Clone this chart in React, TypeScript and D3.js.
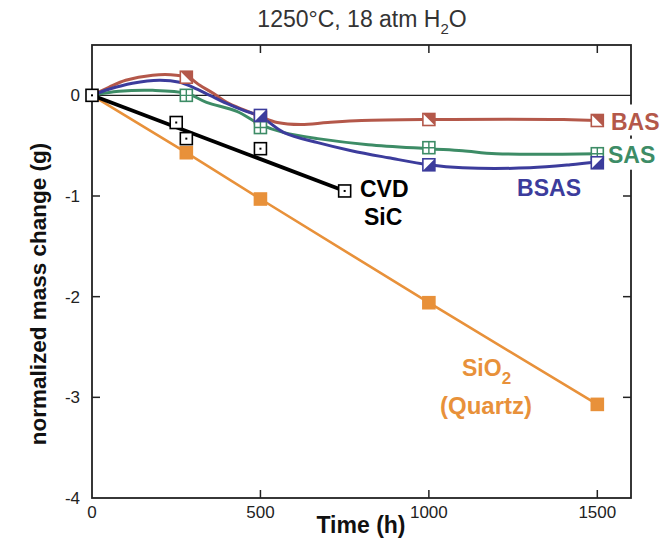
import * as d3 from 'd3';

// time (h) / normalized mass change (g)
const sicTime = [0, 250, 280, 500, 750];
const sicMass = [0, -0.27, -0.43, -0.53, -0.95];
const sicFitTime = [0, 750];
const sicFitMass = [0, -0.95];

const quartzTime = [0, 280, 500, 1000, 1500];
const quartzMass = [0, -0.57, -1.03, -2.06, -3.07];

const basTime = [280, 500, 1000, 1500];
const basMass = [0.18, -0.22, -0.24, -0.25];
const basFitTime = [0, 50, 100, 180, 250, 290, 320, 360, 400, 455, 500, 550, 620, 700, 800, 1000, 1400, 1500];
const basFitMass = [0, 0.08, 0.15, 0.2, 0.2, 0.17, 0.1, 0.02, -0.07, -0.15, -0.21, -0.27, -0.29, -0.27, -0.25, -0.24, -0.24, -0.25];

const sasTime = [280, 500, 1000, 1500];
const sasMass = [0.0, -0.32, -0.52, -0.58];
const sasFitTime = [0, 80, 180, 280, 340, 430, 500, 570, 670, 820, 1000, 1100, 1200, 1500];
const sasFitMass = [0, 0.04, 0.05, 0.02, -0.07, -0.16, -0.29, -0.37, -0.43, -0.49, -0.53, -0.55, -0.58, -0.58];

const bsasTime = [500, 1000, 1500];
const bsasMass = [-0.2, -0.69, -0.67];
const bsasFitTime = [0, 50, 120, 200, 260, 300, 350, 400, 450, 500, 570, 670, 770, 880, 1000, 1100, 1300, 1420, 1500];
const bsasFitMass = [0, 0.06, 0.12, 0.15, 0.13, 0.08, 0.0, -0.08, -0.15, -0.21, -0.37, -0.47, -0.55, -0.62, -0.69, -0.72, -0.72, -0.69, -0.66];

const xTicks = [0, 500, 1000, 1500];
const yTicks = [0, -1, -2, -3, -4];

const RED = '#b4584a';
const GREEN = '#3d8c66';
const BLUE = '#3c3c9c';
const ORANGE = '#e8913a';

const width = 662;
const height = 547;
const left = 92;
const right = 631;
const top = 45;
const bottom = 498;
const font = "'Liberation Sans', Arial, Helvetica, sans-serif";

const x = d3.scaleLinear([0, 1600], [left, right]);
const y = d3.scaleLinear([-4, 0.5], [bottom, top]);

const zip = (xs: number[], ys: number[]) => xs.map((t, i) => [t, ys[i]] as [number, number]);

const smooth = d3
  .line<[number, number]>()
  .x((d) => x(d[0]))
  .y((d) => y(d[1]))
  .curve(d3.curveCatmullRom.alpha(0.5));
const straight = d3
  .line<[number, number]>()
  .x((d) => x(d[0]))
  .y((d) => y(d[1]));

const S = 6;

function Marker({ cx, cy, kind, color }: { cx: number; cy: number; kind: string; color: string }) {
  const box = (
    <rect x={cx - S} y={cy - S} width={2 * S} height={2 * S} fill={kind === 'filled' ? color : 'white'} stroke={color} strokeWidth={1.6} />
  );
  if (kind === 'filled') return box;
  return (
    <g>
      {box}
      {kind === 'dot' && <rect x={cx - 1} y={cy - 1} width={2} height={2} fill={color} />}
      {kind === 'grid' && (
        <path d={`M${cx - S},${cy}H${cx + S}M${cx},${cy - S}V${cy + S}`} stroke={color} strokeWidth={1.4} />
      )}
      {kind === 'ur' && <path d={`M${cx - S},${cy - S}L${cx + S},${cy - S}L${cx + S},${cy + S}Z`} fill={color} />}
      {kind === 'lr' && <path d={`M${cx - S},${cy + S}L${cx + S},${cy - S}L${cx + S},${cy + S}Z`} fill={color} />}
    </g>
  );
}

export default function App() {
  const inner = [-1, -2, -3];
  const innerX = [500, 1000, 1500];
  return (
    <svg width={width} height={height} style={{ position: 'absolute', left: 0, top: 0 }}>
      <rect width={width} height={height} fill="white" />

      <text x={362} y={27} textAnchor="middle" fontFamily={font} fontSize={23} fill="#333">
        1250°C, 18 atm H<tspan dy={7} fontSize={15}>2</tspan>
        <tspan dy={-7}>O</tspan>
      </text>

      {/* frame and ticks */}
      <rect x={left} y={top} width={right - left} height={bottom - top} fill="none" stroke="#222" strokeWidth={1.8} />
      <line x1={left} x2={right} y1={y(0)} y2={y(0)} stroke="#222" strokeWidth={1.3} />
      <g stroke="#222" strokeWidth={1.5}>
        {innerX.map((t) => (
          <g key={t}>
            <line x1={x(t)} x2={x(t)} y1={bottom} y2={bottom - 8} />
            <line x1={x(t)} x2={x(t)} y1={top} y2={top + 8} />
          </g>
        ))}
        {inner.map((v) => (
          <g key={v}>
            <line x1={left} x2={left + 8} y1={y(v)} y2={y(v)} />
            <line x1={right} x2={right - 8} y1={y(v)} y2={y(v)} />
          </g>
        ))}
      </g>
      <g fontFamily={font} fontSize={17} fill="#222">
        {xTicks.map((t) => (
          <text key={t} x={x(t)} y={518} textAnchor="middle">
            {t}
          </text>
        ))}
        {yTicks.map((v) => (
          <text key={v} x={80} y={y(v) + 6} textAnchor="end">
            {v === 0 ? '0' : `-${Math.abs(v)}`}
          </text>
        ))}
      </g>
      <text x={361} y={533} textAnchor="middle" fontFamily={font} fontWeight="bold" fontSize={23} fill="#111">
        Time (h)
      </text>
      <text
        transform={`translate(46,${294}) rotate(-90)`}
        textAnchor="middle"
        fontFamily={font}
        fontWeight="bold"
        fontSize={22.5}
        fill="#111"
      >
        normalized mass change (g)
      </text>

      {/* series */}
      <path d={straight(zip(quartzTime, quartzMass)) ?? ''} fill="none" stroke={ORANGE} strokeWidth={2.6} />
      <path d={smooth(zip(sasFitTime, sasFitMass)) ?? ''} fill="none" stroke={GREEN} strokeWidth={3} />
      <path d={smooth(zip(basFitTime, basFitMass)) ?? ''} fill="none" stroke={RED} strokeWidth={3} />
      <path d={smooth(zip(bsasFitTime, bsasFitMass)) ?? ''} fill="none" stroke={BLUE} strokeWidth={3} />
      <path d={straight(zip(sicFitTime, sicFitMass)) ?? ''} fill="none" stroke="black" strokeWidth={3.8} />

      {quartzTime.slice(1).map((t, i) => (
        <Marker key={t} cx={x(t)} cy={y(quartzMass[i + 1])} kind="filled" color={ORANGE} />
      ))}
      {basTime.map((t, i) => (
        <Marker key={t} cx={x(t)} cy={y(basMass[i])} kind="ur" color={RED} />
      ))}
      {sasTime.map((t, i) => (
        <Marker key={t} cx={x(t)} cy={y(sasMass[i])} kind="grid" color={GREEN} />
      ))}
      {bsasTime.map((t, i) => (
        <Marker key={t} cx={x(t)} cy={y(bsasMass[i])} kind="lr" color={BLUE} />
      ))}
      {sicTime.map((t, i) => (
        <Marker key={t} cx={x(t)} cy={y(sicMass[i])} kind="dot" color="black" />
      ))}

      {/* labels */}
      <g fontFamily={font} fontWeight="bold" fontSize={23}>
        <rect x={x(1500) + 10} y={y(-0.25) - 16} width={60} height={31} fill="white" />
        <text x={611} y={y(-0.25) + 9} fill={RED}>
          BAS
        </text>
        <rect x={x(1500) + 10} y={y(-0.58) - 15} width={60} height={31} fill="white" />
        <text x={608} y={y(-0.58) + 9} fill={GREEN}>
          SAS
        </text>
        <text x={581} y={196} fill={BLUE} textAnchor="end">
          BSAS
        </text>
        <text x={360} y={197} fill="black">
          CVD
        </text>
        <text x={364} y={225} fill="black">
          SiC
        </text>
        <text x={462} y={376} fill={ORANGE}>
          SiO<tspan dy={8} fontSize={17}>2</tspan>
        </text>
        <text x={440} y={414} fill={ORANGE} fontSize={24}>
          (Quartz)
        </text>
      </g>
    </svg>
  );
}
